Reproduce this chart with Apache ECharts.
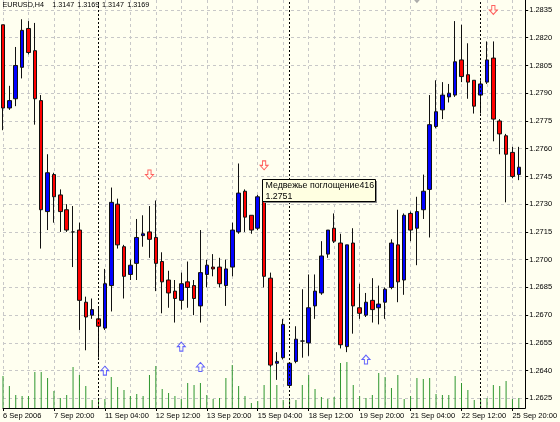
<!DOCTYPE html>
<html><head><meta charset="utf-8">
<script src="https://cdn.jsdelivr.net/npm/echarts@6/dist/echarts.min.js"></script>
<style>html,body{margin:0;padding:0;background:#fffff0;}#c{width:560px;height:422px;}</style>
</head><body><div id="c"></div>
<script>
// ---- data (EURUSD H4) ----
const tickLabels = ['6 Sep 2006','7 Sep 20:00','11 Sep 04:00','12 Sep 12:00','13 Sep 20:00','15 Sep 04:00','18 Sep 12:00','19 Sep 20:00','21 Sep 04:00','22 Sep 12:00','25 Sep 20:00'];
const priceTicks = [1.2625,1.2640,1.2655,1.2670,1.2685,1.2700,1.2715,1.2730,1.2745,1.2760,1.2775,1.2790,1.2805,1.2820,1.2835];
const opens  = [1.2827,1.2782,1.2787,1.2804,1.2825,1.2813,1.2786,1.2726,1.2746,1.2735,1.2727,1.2715,1.2716,1.2677,1.2670,1.2668,1.2663,1.2686,1.2730,1.2707,1.2692,1.2698,1.2713,1.2715,1.2712,1.2699,1.2689,1.2683,1.2678,1.2688,1.2686,1.2675,1.2692,1.2696,1.2696,1.2686,1.2696,1.2715,1.2737,1.2724,1.2717,1.2732,1.2690,1.2644,1.2647,1.2632,1.2645,1.2656,1.2655,1.2675,1.2682,1.2703,1.2717,1.2709,1.2653,1.2709,1.2674,1.2670,1.2678,1.2674,1.2677,1.2685,1.2708,1.2689,1.2725,1.2717,1.2727,1.2738,1.2772,1.2781,1.2788,1.2789,1.2808,1.2800,1.2797,1.2789,1.2796,1.2809,1.2775,1.2767,1.2758,1.2746];
const closes = [1.2782,1.2786,1.2805,1.2824,1.2812,1.2787,1.2727,1.2747,1.2734,1.2726,1.2716,1.2715,1.2678,1.2669,1.2673,1.2664,1.2687,1.2731,1.2708,1.2691,1.2697,1.2712,1.2714,1.2711,1.2698,1.2688,1.2682,1.2679,1.2687,1.2685,1.2679,1.2693,1.2697,1.2695,1.2687,1.2695,1.2716,1.2736,1.2723,1.2716,1.2734,1.2691,1.2643,1.2645,1.2665,1.2644,1.2657,1.2656,1.2674,1.2683,1.2702,1.2716,1.2710,1.2654,1.2708,1.2675,1.2671,1.2677,1.2673,1.2676,1.2684,1.2709,1.2688,1.2724,1.2716,1.2726,1.2737,1.2773,1.2780,1.2789,1.2790,1.2807,1.2799,1.2796,1.2783,1.2795,1.2808,1.2776,1.2768,1.2757,1.2745,1.2750];
const lows   = [1.2770,1.2781,1.2783,1.2798,1.2811,1.2773,1.2706,1.2716,1.2720,1.2715,1.2715,1.2696,1.2662,1.2651,1.2668,1.2647,1.2662,1.2672,1.2706,1.2679,1.2689,1.2689,1.2707,1.2701,1.2683,1.2671,1.2674,1.2666,1.2673,1.2674,1.2670,1.2666,1.2685,1.2691,1.2685,1.2675,1.2691,1.2714,1.2715,1.2714,1.2716,1.2685,1.2642,1.2635,1.2646,1.2631,1.2644,1.2647,1.2648,1.2668,1.2681,1.2701,1.2709,1.2652,1.2650,1.2660,1.2668,1.2669,1.2666,1.2665,1.2668,1.2684,1.2677,1.2681,1.2710,1.2697,1.2722,1.2712,1.2771,1.2776,1.2785,1.2788,1.2796,1.2787,1.2779,1.2779,1.2795,1.2764,1.2757,1.2731,1.2744,1.2743];
const highs  = [1.2827,1.2794,1.2815,1.2830,1.2829,1.2828,1.2789,1.2757,1.2747,1.2738,1.2730,1.2729,1.2720,1.2680,1.2679,1.2674,1.2695,1.2739,1.2733,1.2708,1.2700,1.2722,1.2724,1.2729,1.2732,1.2704,1.2694,1.2689,1.2693,1.2699,1.2689,1.2716,1.2700,1.2703,1.2701,1.2700,1.2720,1.2752,1.2738,1.2724,1.2735,1.2733,1.2693,1.2650,1.2668,1.2644,1.2664,1.2684,1.2692,1.2692,1.2710,1.2716,1.2725,1.2714,1.2708,1.2717,1.2687,1.2682,1.2690,1.2686,1.2685,1.2711,1.2727,1.2725,1.2726,1.2734,1.2746,1.2789,1.2797,1.2796,1.2795,1.2829,1.2827,1.2817,1.2797,1.2797,1.2818,1.2818,1.2776,1.2768,1.2761,1.2761];
const volumes = [320,220,130,120,120,360,360,300,170,100,130,410,330,220,80,100,90,310,210,180,120,140,120,330,420,190,150,120,90,250,230,250,130,90,100,300,430,220,120,50,70,230,500,230,80,90,80,230,330,190,110,90,110,450,460,230,120,100,130,350,310,200,330,90,120,300,290,300,140,130,130,320,250,180,80,90,100,230,220,270,90,100];
const separatorBars = [15,45,75];
const downArrowBars = [23,41,77];
const downArrowPrices = [1.2746,1.2751,1.2835];
const upArrowBars = [16,28,31,57];
const upArrowPrices = [1.2640,1.2653,1.2642,1.2646];
const greyArrowBars = [65];
const greyArrowPrices = [1.28415];
const headerParts = ['EURUSD,H4','1.3147','1.3169','1.3147','1.3169'];
const noteTitle = 'Медвежье поглощение416';
const notePrice = '1.2751';

// ---- build ----
const nBars = opens.length;
const categories = [];
for (let i = 0; i <= nBars; i++) categories.push(i % 8 === 0 && tickLabels[i/8] ? tickLabels[i/8] : '');
const candles = opens.map((o,i)=>[o, closes[i], lows[i], highs[i]]);
const FONT = 'Liberation Sans';
const downPath = 'path://M3,0 L7,0 L7,5 L10,5 L5,10 L0,5 L3,5 Z';
const upPath = 'path://M5,0 L10,5 L7,5 L7,10 L3,10 L3,5 L0,5 Z';
const headerX = [2.5, 52.3, 77.3, 102, 127.3];

const chart = echarts.init(document.getElementById('c'), null, {renderer:'canvas'});
chart.setOption({
  animation: false,
  backgroundColor: '#fffff0',
  textStyle: {fontFamily: FONT},
  grid: {left: 0, right: 33, top: 0, bottom: 14},
  xAxis: {
    type: 'category', data: categories, boundaryGap: false,
    axisLine: {show: true, lineStyle: {color: '#000', width: 1}},
    axisTick: {show: true, interval: 7, length: 3, lineStyle: {color: '#000'}},
    axisLabel: {interval: 7, align: 'left', fontSize: 7.5, color: '#000', fontFamily: FONT, margin: 4, hideOverlap: false},
    splitLine: {show: true, interval: (idx) => idx % 4 === 0, lineStyle: {color: '#c8c8c8', type: [3,3], width: 1}}
  },
  yAxis: [{
    type: 'value', position: 'right', min: 1.26198, max: 1.28404, scale: true,
    axisLine: {show: true, lineStyle: {color: '#000', width: 1}},
    axisTick: {show: true, length: 3, customValues: priceTicks, lineStyle: {color: '#000'}},
    axisLabel: {customValues: priceTicks, formatter: v => v.toFixed(4), fontSize: 7.5, color: '#000', fontFamily: FONT, margin: 4},
    splitLine: {show: true, lineStyle: {color: '#c8c8c8', type: [3,3], width: 1}}
  },{
    type: 'value', min: 0, max: 4080, show: false, splitLine: {show: false}
  }],
  series: [
    {
      type: 'bar', yAxisIndex: 1, data: volumes, barWidth: 1,
      itemStyle: {color: '#2e962e'}, silent: true
    },
    {
      type: 'candlestick', data: candles, barWidth: 4,
      itemStyle: {color: '#0000ff', color0: '#ff0000', borderColor: '#111', borderColor0: '#111', borderColorDoji: '#111', borderWidth: 1},
      markLine: {
        silent: true, symbol: ['none','none'], label: {show: false},
        lineStyle: {color: '#000', type: [2,2], width: 1},
        data: separatorBars.map(b => ({xAxis: b}))
      }
    },
    {
      type: 'scatter', clip: false, symbol: downPath, symbolSize: [8,9],
      itemStyle: {color: '#fffff0', borderColor: '#ff3b3b', borderWidth: 1},
      data: downArrowBars.map((b,i)=>[b, downArrowPrices[i]])
    },
    {
      type: 'scatter', clip: false, symbol: upPath, symbolSize: [8,9],
      itemStyle: {color: '#fffff0', borderColor: '#3b3bff', borderWidth: 1},
      data: upArrowBars.map((b,i)=>[b, upArrowPrices[i]])
    },
    {
      type: 'scatter', clip: false, symbol: downPath, symbolSize: [8,9],
      itemStyle: {color: '#a0a0a0', borderColor: '#a0a0a0', borderWidth: 1},
      data: greyArrowBars.map((b,i)=>[b, greyArrowPrices[i]])
    }
  ],
  graphic: headerParts.map((t,i)=>({type: 'text', x: headerX[i], y: 2, style: {text: t, fontSize: 7.2, fontFamily: FONT, fill: '#000'}, z: 100})).concat([
    {type: 'rect', shape: {x: 264, y: 181, width: 113, height: 22}, style: {fill: '#8c8c8c'}, z: 100},
    {type: 'rect', shape: {x: 262.5, y: 179.5, width: 113, height: 22}, style: {fill: '#ffffe1', stroke: '#000', lineWidth: 1}, z: 101},
    {type: 'text', x: 265.5, y: 181.5, style: {text: noteTitle, fontSize: 8.8, fontFamily: FONT, fill: '#000'}, z: 102},
    {type: 'text', x: 265.5, y: 192.5, style: {text: notePrice, fontSize: 8.8, fontFamily: FONT, fill: '#000'}, z: 102}
  ])
});
</script></body></html>
